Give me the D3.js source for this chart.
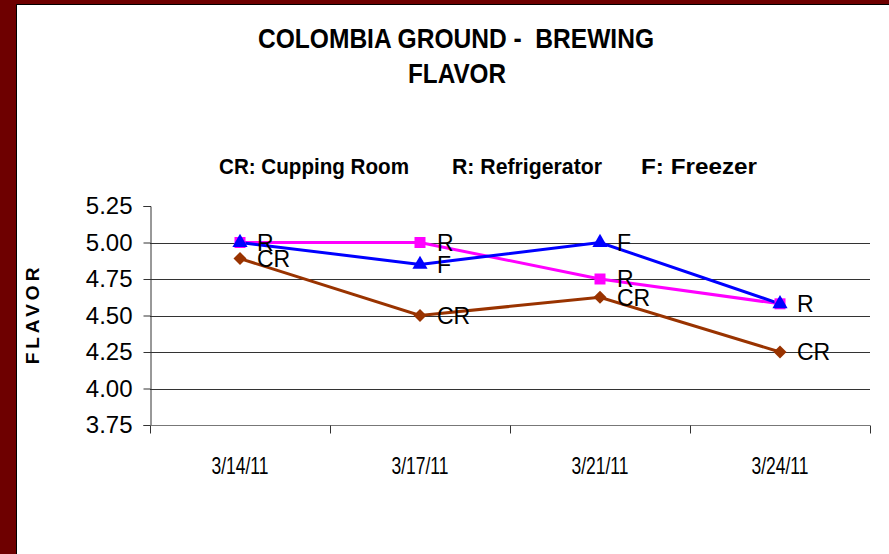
<!DOCTYPE html>
<html>
<head>
  <title>Colombia Ground - Brewing Flavor</title>
  <style>
  html, body { margin:0; padding:0; background:#fff; }
  svg { display:block; }
  text { font-family: "Liberation Sans", Arial, sans-serif; }
  .narrow { font-family: "Liberation Sans Narrow", "Arial Narrow", "Liberation Sans", Arial, sans-serif; white-space: pre; }
  </style>
  <script src="https://d3js.org/d3.v7.min.js"></script>
</head>
<body>
<svg id="chart"></svg>

<script>
// data
var dates = ["3/14/11", "3/17/11", "3/21/11", "3/24/11"];
var crValues = [4.89, 4.50, 4.625, 4.25];
var rValues = [5.00, 5.00, 4.75, 4.58];
var fValues = [5.00, 4.85, 5.00, 4.58];
var crLabels = ["CR", "CR", "CR", "CR"];
var rLabels = ["R", "R", "R", "R"];
var fLabels = ["", "F", "F", ""];
var yTicks = [3.75, 4.00, 4.25, 4.50, 4.75, 5.00, 5.25];
var legendItems = ["CR: Cupping Room", "R: Refrigerator", "F: Freezer"];

var width = 889,
    height = 554;

var svg = d3.select("#chart")
    .attr("width", width)
    .attr("height", height);

// slide frame
svg.append("rect")
    .attr("width", width)
    .attr("height", height)
    .attr("fill", "#6e0000");
svg.append("rect")
    .attr("x", 17)
    .attr("y", 5)
    .attr("width", width - 17)
    .attr("height", height - 5)
    .attr("fill", "#fff");
svg.append("path")
    .attr("d", "M16.5," + height + "V4.5H" + width)
    .attr("fill", "none")
    .attr("stroke", "#000")
    .attr("stroke-width", 1);

var x = d3.scaleBand().domain(dates).range([150, 870]);
var y = d3.scaleLinear().domain([3.75, 5.25]).range([425, 206]);
function cx(i) { return x(dates[i]) + x.bandwidth() / 2; }

// title
svg.append("text")
    .attr("class", "narrow")
    .attr("x", 456).attr("y", 48)
    .attr("text-anchor", "middle")
    .attr("font-weight", "bold")
    .attr("font-size", 28)
    .attr("textLength", 396)
    .attr("lengthAdjust", "spacingAndGlyphs")
    .text("COLOMBIA GROUND -  BREWING");
svg.append("text")
    .attr("class", "narrow")
    .attr("x", 457).attr("y", 83)
    .attr("text-anchor", "middle")
    .attr("font-weight", "bold")
    .attr("font-size", 28)
    .attr("textLength", 98)
    .attr("lengthAdjust", "spacingAndGlyphs")
    .text("FLAVOR");

// legend text line
var legendX = [219, 452, 641],
    legendW = [190, 150, 116];
svg.selectAll(".legend")
    .data(legendItems)
    .enter().append("text")
    .attr("class", "narrow legend")
    .attr("x", function(d, i) { return legendX[i]; })
    .attr("y", 174)
    .attr("font-weight", "bold")
    .attr("font-size", 22)
    .attr("textLength", function(d, i) { return legendW[i]; })
    .attr("lengthAdjust", "spacingAndGlyphs")
    .text(function(d) { return d; });

// gridlines (not at top)
svg.append("g")
    .selectAll("line")
    .data(yTicks.filter(function(d) { return d > 3.75 && d < 5.25; }))
    .enter().append("line")
    .attr("x1", 150).attr("x2", 870)
    .attr("y1", function(d) { return Math.round(y(d)) + 0.5; })
    .attr("y2", function(d) { return Math.round(y(d)) + 0.5; })
    .attr("stroke", "#333");

// y axis
var yAxis = svg.append("g")
    .attr("transform", "translate(150.5,0)")
    .call(d3.axisLeft(y).tickValues(yTicks).tickSize(7).tickPadding(11)
      .tickFormat(d3.format(".2f")));
yAxis.select(".domain").attr("stroke", "#333");
yAxis.selectAll(".tick line").attr("stroke", "#333");
yAxis.selectAll("text")
    .attr("font-family", "'Liberation Sans', Arial, sans-serif")
    .attr("font-size", 24)
    .attr("fill", "#000");

// x axis
var xAxis = svg.append("g")
    .attr("transform", "translate(0,425.5)")
    .call(d3.axisBottom(x).tickSize(0).tickPadding(31));
xAxis.select(".domain").attr("stroke", "#777").attr("d", "M150,0H870");
xAxis.selectAll("text")
    .attr("class", "narrow")
    .attr("font-family", null)
    .attr("font-size", 24)
    .attr("fill", "#000")
    .attr("textLength", 57)
    .attr("lengthAdjust", "spacingAndGlyphs");
xAxis.selectAll(".sep")
    .data(d3.range(dates.length + 1))
    .enter().append("line")
    .attr("class", "sep")
    .attr("x1", function(i) { return 150 + i * x.bandwidth() + 0.5; })
    .attr("x2", function(i) { return 150 + i * x.bandwidth() + 0.5; })
    .attr("y1", 0).attr("y2", 8)
    .attr("stroke", "#333");

// y axis title
svg.append("text")
    .attr("transform", "translate(39,314) rotate(-90)")
    .attr("text-anchor", "middle")
    .attr("font-weight", "bold")
    .attr("font-size", 19)
    .attr("letter-spacing", 4)
    .text("FLAVOR");

// series (diamond = square turned 45deg)
var series = [
  { values: crValues, labels: crLabels, color: "#993300", shape: d3.symbolSquare, size: 85, rot: 45 },
  { values: rValues, labels: rLabels, color: "#ff00ff", shape: d3.symbolSquare, size: 121, rot: 0 },
  { values: fValues, labels: fLabels, color: "#0000ff", shape: d3.symbolTriangle, size: 100, rot: 0 }
];

var line = d3.line()
    .x(function(d, i) { return cx(i); })
    .y(function(d) { return y(d); });

series.forEach(function(s) {
  svg.append("path")
    .attr("d", line(s.values))
    .attr("fill", "none")
    .attr("stroke", s.color)
    .attr("stroke-width", 3);
});

series.forEach(function(s) {
  var g = svg.append("g");
  g.selectAll("path")
    .data(s.values)
    .enter().append("path")
    .attr("transform", function(d, i) { return "translate(" + cx(i) + "," + y(d) + ") rotate(" + s.rot + ")"; })
    .attr("d", d3.symbol().type(s.shape).size(s.size))
    .attr("fill", s.color);
});

series.forEach(function(s) {
  svg.append("g")
    .selectAll("text")
    .data(s.values)
    .enter().append("text")
    .attr("x", function(d, i) { return cx(i) + 17; })
    .attr("y", function(d) { return y(d); })
    .attr("dy", "0.36em")
    .attr("font-size", 23)
    .attr("fill", "#000")
    .text(function(d, i) { return s.labels[i]; });
});
</script>
</body>
</html>
